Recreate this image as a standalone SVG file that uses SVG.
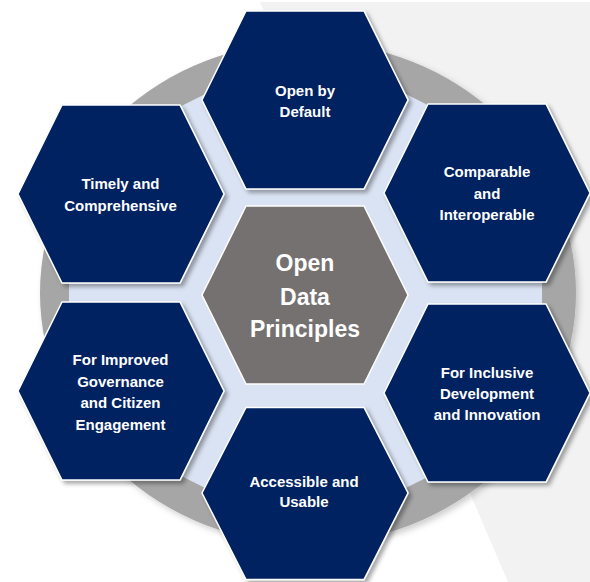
<svg xmlns="http://www.w3.org/2000/svg" width="590" height="582" viewBox="0 0 590 582">
  <style>
    .hex { fill: #002060; stroke: #FFFFFF; stroke-width: 1.5; filter: url(#shadow); }
    .core { fill: #767171; stroke: #FFFFFF; stroke-width: 1.5; }
    .lbl { font-family: "Liberation Sans", Arial, sans-serif; font-weight: bold; font-size: 15px; fill: #FFFFFF; text-anchor: middle; }
    .big { font-family: "Liberation Sans", Arial, sans-serif; font-weight: bold; font-size: 23px; fill: #FFFFFF; text-anchor: middle; }
  </style>
  <defs>
    <filter id="shadow" x="-10%" y="-10%" width="125%" height="125%">
      <feDropShadow dx="3" dy="3" stdDeviation="2" flood-color="#000000" flood-opacity="0.35"/>
    </filter>
    <filter id="soft" x="-5%" y="-5%" width="115%" height="115%">
      <feDropShadow dx="3" dy="3" stdDeviation="3" flood-color="#000000" flood-opacity="0.2"/>
    </filter>
  </defs>

  <rect x="0" y="0" width="590" height="582" fill="#FFFFFF"/>
  <polygon points="260,2 590,2 590,582 508,582" fill="#F2F2F2"/>

  <g id="background">
    <ellipse cx="308" cy="293" rx="268" ry="251" fill="#A6A6A6" filter="url(#soft)"/>
    <polygon points="305.5,44 542,162 542,420 305.5,538 69,420 69,162" fill="#DAE3F3"/>
  </g>

  <g id="connectors"/>

  <g id="node-top">
    <polygon class="hex" points="246,11 364,11 408,100 364,189 246,189 202,100"/>
    <text class="lbl" x="305" y="95.5">Open by</text>
    <text class="lbl" x="305" y="117">Default</text>
  </g>

  <g id="node-top-right">
    <polygon class="hex" points="428,104 546,104 590,193 546,282 428,282 384,193"/>
    <text class="lbl" x="487" y="177">Comparable</text>
    <text class="lbl" x="487" y="198.5">and</text>
    <text class="lbl" x="487" y="220">Interoperable</text>
  </g>

  <g id="node-top-left">
    <polygon class="hex" points="62,105 180,105 224,194 180,283 62,283 18,194"/>
    <text class="lbl" x="120.5" y="189">Timely and</text>
    <text class="lbl" x="120.5" y="210.5">Comprehensive</text>
  </g>

  <g id="node-bottom-left">
    <polygon class="hex" points="62,302 180,302 224,391 180,480 62,480 18,391"/>
    <text class="lbl" x="120.5" y="365">For Improved</text>
    <text class="lbl" x="120.5" y="386.5">Governance</text>
    <text class="lbl" x="120.5" y="408">and Citizen</text>
    <text class="lbl" x="120.5" y="429.5">Engagement</text>
  </g>

  <g id="node-bottom-right">
    <polygon class="hex" points="428,304 546,304 590,393 546,482 428,482 384,393"/>
    <text class="lbl" x="487" y="377.5">For Inclusive</text>
    <text class="lbl" x="487" y="399">Development</text>
    <text class="lbl" x="487" y="420">and Innovation</text>
  </g>

  <g id="node-bottom">
    <polygon class="hex" points="246,407.5 364,407.5 408,493 364,579.5 246,579.5 202,493"/>
    <text class="lbl" x="304" y="487">Accessible and</text>
    <text class="lbl" x="304" y="507">Usable</text>
  </g>

  <g id="node-center">
    <polygon class="core" points="246,206 364,206 408,295 364,384 246,384 202,295"/>
    <text class="big" x="305" y="271">Open</text>
    <text class="big" x="305" y="305">Data</text>
    <text class="big" x="305" y="337">Principles</text>
  </g>
</svg>
